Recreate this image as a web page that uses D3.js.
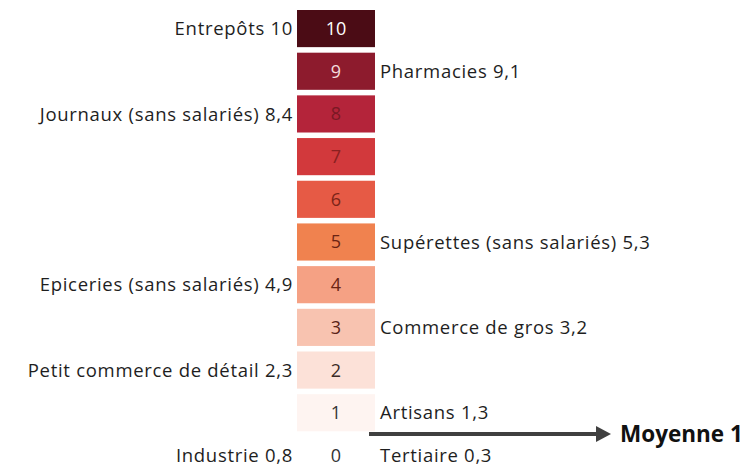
<!DOCTYPE html>
<html>
<head>
<meta charset="utf-8">
<script src="https://cdn.jsdelivr.net/npm/d3@7"></script>
<style>
  html, body { margin: 0; padding: 0; background: #ffffff; }
  svg { display: block; }
</style>
</head>
<body>
<svg id="chart" width="755" height="467"></svg>
<script>
// Scale steps (0 to 10) and their colours, light to dark
const steps = [0, 1, 2, 3, 4, 5, 6, 7, 8, 9, 10];
const stepColors = ["#ffffff", "#fef4f1", "#fce1d8", "#f8c3b0", "#f5a184", "#f0824f",
                    "#e65a45", "#d2393c", "#b4243a", "#8d1b2d", "#4b0c15"];
const stepTextColors = ["#333333", "#333333", "#3a2a26", "#5a2418", "#6a2414", "#6a2414",
                        "#7a2418", "#8a2020", "#7a1824", "#f4dcdc", "#ffffff"];

// Sectors shown on the left of the scale
const leftNames = ["Entrepôts", "Journaux (sans salariés)", "Epiceries (sans salariés)",
                   "Petit commerce de détail", "Industrie"];
const leftValues = [10, 8.4, 4.9, 2.3, 0.8];

// Sectors shown on the right of the scale
const rightNames = ["Pharmacies", "Supérettes (sans salariés)", "Commerce de gros",
                    "Artisans", "Tertiaire"];
const rightValues = [9.1, 5.3, 3.2, 1.3, 0.3];

// Average level
const meanLabel = "Moyenne";
const meanValue = 1;

const fr = d3.formatLocale({ decimal: ",", thousands: " ", grouping: [3], currency: ["", " €"] });
const fmt = v => Number.isInteger(v) ? String(v) : fr.format(".1f")(v);

const svg = d3.select("#chart");
const font = "'Open Sans', sans-serif";
const labelSize = 18.5;
const labelSpacing = 0.7;

const y = d3.scaleBand()
  .domain(steps.slice().reverse())
  .range([10, 474])
  .paddingInner(0.13)
  .paddingOuter(0);

const x0 = 297, x1 = 375;
const yc = v => y(Math.floor(v)) + y.bandwidth() / 2;

// Colour cells
svg.append("g").selectAll("rect")
  .data(steps)
  .join("rect")
  .attr("x", x0)
  .attr("y", d => y(d))
  .attr("width", x1 - x0)
  .attr("height", y.bandwidth())
  .attr("fill", (d, i) => stepColors[i]);

// Step numbers inside cells
svg.append("g").selectAll("text")
  .data(steps)
  .join("text")
  .attr("x", (x0 + x1) / 2)
  .attr("y", d => y(d) + y.bandwidth() / 2)
  .attr("dy", "0.36em")
  .attr("text-anchor", "middle")
  .attr("font-family", font)
  .attr("font-size", 18)
  .attr("fill", (d, i) => stepTextColors[i])
  .text(d => d);

// Left labels
svg.append("g").selectAll("text")
  .data(leftNames.map((n, i) => ({ n, v: leftValues[i] })))
  .join("text")
  .attr("x", 293)
  .attr("y", d => yc(d.v))
  .attr("dy", "0.36em")
  .attr("text-anchor", "end")
  .attr("font-family", font)
  .attr("font-size", labelSize)
  .attr("letter-spacing", labelSpacing)
  .attr("fill", "#1e1e1e")
  .text(d => `${d.n} ${fmt(d.v)}`);

// Right labels
svg.append("g").selectAll("text")
  .data(rightNames.map((n, i) => ({ n, v: rightValues[i] })))
  .join("text")
  .attr("x", 380)
  .attr("y", d => yc(d.v))
  .attr("dy", "0.36em")
  .attr("text-anchor", "start")
  .attr("font-family", font)
  .attr("font-size", labelSize)
  .attr("letter-spacing", labelSpacing)
  .attr("fill", "#1e1e1e")
  .text(d => `${d.n} ${fmt(d.v)}`);

// Average arrow, placed between the steps around the mean
const meanY = (yc(meanValue) + yc(meanValue - 1)) / 2;
svg.append("line")
  .attr("x1", 369).attr("x2", 598)
  .attr("y1", meanY).attr("y2", meanY)
  .attr("stroke", "#404040")
  .attr("stroke-width", 4);
svg.append("path")
  .attr("d", `M596,${meanY - 8} L611,${meanY} L596,${meanY + 8} Z`)
  .attr("fill", "#404040");
svg.append("text")
  .attr("x", 620)
  .attr("y", meanY)
  .attr("dy", "0.36em")
  .attr("font-family", font)
  .attr("font-weight", "bold")
  .attr("font-size", 22.5)
  .attr("fill", "#111111")
  .text(`${meanLabel} ${fmt(meanValue)}`);
</script>
</body>
</html>
